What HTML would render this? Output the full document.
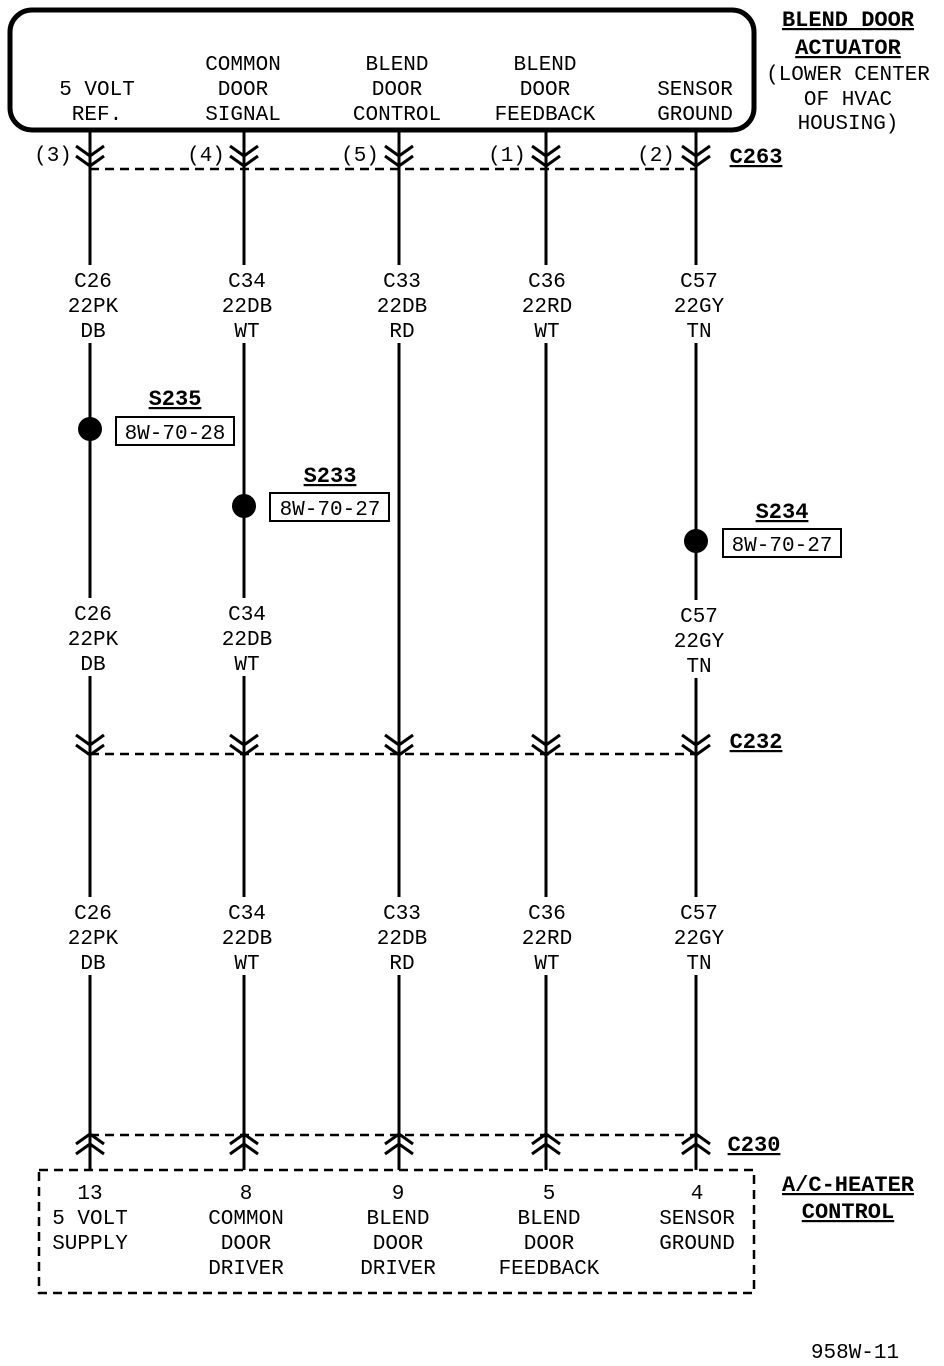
<!DOCTYPE html>
<html><head><meta charset="utf-8"><style>
html,body{margin:0;padding:0;background:#fff}
svg{display:block}
text{font-family:"Liberation Mono",monospace;font-size:21px;fill:#000;text-anchor:middle}
.b{font-weight:bold;font-size:22px;text-decoration:underline}
</style></head><body>
<svg width="944" height="1366" viewBox="0 0 944 1366" xmlns="http://www.w3.org/2000/svg">
<rect x="10" y="10" width="744" height="120" rx="22" ry="22" fill="none" stroke="#000" stroke-width="5"/>
<g>
<text x="97" y="95">5 VOLT</text><text x="97" y="120">REF.</text>
<text x="243" y="70">COMMON</text><text x="243" y="95">DOOR</text><text x="243" y="120">SIGNAL</text>
<text x="397" y="70">BLEND</text><text x="397" y="95">DOOR</text><text x="397" y="120">CONTROL</text>
<text x="545" y="70">BLEND</text><text x="545" y="95">DOOR</text><text x="545" y="120">FEEDBACK</text>
<text x="695" y="95">SENSOR</text><text x="695" y="120">GROUND</text>
</g>
<text class="b" x="848" y="26">BLEND DOOR</text>
<text class="b" x="848" y="54">ACTUATOR</text>
<text x="848" y="80">(LOWER CENTER</text>
<text x="848" y="105">OF HVAC</text>
<text x="848" y="129">HOUSING)</text>
<g stroke="#000" stroke-width="3" fill="none">
<line x1="90" y1="130" x2="90" y2="1170"/>
<line x1="244" y1="130" x2="244" y2="1170"/>
<line x1="399" y1="130" x2="399" y2="1170"/>
<line x1="546" y1="130" x2="546" y2="1170"/>
<line x1="696" y1="130" x2="696" y2="1170"/>
</g>
<g fill="#fff">
<rect x="62" y="265" width="60" height="78"/><rect x="216" y="265" width="60" height="78"/><rect x="371" y="265" width="60" height="78"/><rect x="518" y="265" width="60" height="78"/><rect x="668" y="265" width="60" height="78"/>
<rect x="62" y="598" width="60" height="78"/><rect x="216" y="598" width="60" height="78"/><rect x="668" y="600" width="60" height="78"/>
<rect x="62" y="897" width="60" height="78"/><rect x="216" y="897" width="60" height="78"/><rect x="371" y="897" width="60" height="78"/><rect x="518" y="897" width="60" height="78"/><rect x="668" y="897" width="60" height="78"/>
</g>
<g stroke="#000" stroke-width="2.5" stroke-dasharray="9,6" fill="none">
<line x1="90" y1="169" x2="696" y2="169"/>
<line x1="90" y1="754" x2="696" y2="754"/>
<line x1="90" y1="1135" x2="696" y2="1135"/>
<rect x="39" y="1170" width="715" height="123"/>
</g>
<g stroke="#000" stroke-width="3" fill="none">
<path transform="translate(90,0)" d="M-14,146 L0,156 L14,146 M-14,156 L0,166 L14,156"/>
<path transform="translate(244,0)" d="M-14,146 L0,156 L14,146 M-14,156 L0,166 L14,156"/>
<path transform="translate(399,0)" d="M-14,146 L0,156 L14,146 M-14,156 L0,166 L14,156"/>
<path transform="translate(546,0)" d="M-14,146 L0,156 L14,146 M-14,156 L0,166 L14,156"/>
<path transform="translate(696,0)" d="M-14,146 L0,156 L14,146 M-14,156 L0,166 L14,156"/>
<path transform="translate(90,589)" d="M-14,146 L0,156 L14,146 M-14,156 L0,166 L14,156"/>
<path transform="translate(244,589)" d="M-14,146 L0,156 L14,146 M-14,156 L0,166 L14,156"/>
<path transform="translate(399,589)" d="M-14,146 L0,156 L14,146 M-14,156 L0,166 L14,156"/>
<path transform="translate(546,589)" d="M-14,146 L0,156 L14,146 M-14,156 L0,166 L14,156"/>
<path transform="translate(696,589)" d="M-14,146 L0,156 L14,146 M-14,156 L0,166 L14,156"/>
<path transform="translate(90,0)" d="M-14,1144 L0,1134 L14,1144 M-14,1154 L0,1144 L14,1154"/>
<path transform="translate(244,0)" d="M-14,1144 L0,1134 L14,1144 M-14,1154 L0,1144 L14,1154"/>
<path transform="translate(399,0)" d="M-14,1144 L0,1134 L14,1144 M-14,1154 L0,1144 L14,1154"/>
<path transform="translate(546,0)" d="M-14,1144 L0,1134 L14,1144 M-14,1154 L0,1144 L14,1154"/>
<path transform="translate(696,0)" d="M-14,1144 L0,1134 L14,1144 M-14,1154 L0,1144 L14,1154"/>
</g>
<text x="53" y="161">(3)</text><text x="206" y="161">(4)</text><text x="360" y="161">(5)</text><text x="507" y="161">(1)</text><text x="656" y="161">(2)</text>
<text class="b" x="756" y="163">C263</text>
<text class="b" x="756" y="748">C232</text>
<text class="b" x="754" y="1151">C230</text>
<g>
<text x="93" y="287">C26</text><text x="93" y="312">22PK</text><text x="93" y="337">DB</text>
<text x="247" y="287">C34</text><text x="247" y="312">22DB</text><text x="247" y="337">WT</text>
<text x="402" y="287">C33</text><text x="402" y="312">22DB</text><text x="402" y="337">RD</text>
<text x="547" y="287">C36</text><text x="547" y="312">22RD</text><text x="547" y="337">WT</text>
<text x="699" y="287">C57</text><text x="699" y="312">22GY</text><text x="699" y="337">TN</text>

<text x="93" y="620">C26</text><text x="93" y="645">22PK</text><text x="93" y="670">DB</text>
<text x="247" y="620">C34</text><text x="247" y="645">22DB</text><text x="247" y="670">WT</text>
<text x="699" y="622">C57</text><text x="699" y="647">22GY</text><text x="699" y="672">TN</text>

<text x="93" y="919">C26</text><text x="93" y="944">22PK</text><text x="93" y="969">DB</text>
<text x="247" y="919">C34</text><text x="247" y="944">22DB</text><text x="247" y="969">WT</text>
<text x="402" y="919">C33</text><text x="402" y="944">22DB</text><text x="402" y="969">RD</text>
<text x="547" y="919">C36</text><text x="547" y="944">22RD</text><text x="547" y="969">WT</text>
<text x="699" y="919">C57</text><text x="699" y="944">22GY</text><text x="699" y="969">TN</text>
</g>
<circle cx="90" cy="429" r="12" fill="#000"/>
<circle cx="244" cy="506" r="12" fill="#000"/>
<circle cx="696" cy="541" r="12" fill="#000"/>
<g fill="none" stroke="#000" stroke-width="2">
<rect x="116" y="417" width="118" height="28"/>
<rect x="270" y="493" width="119" height="28"/>
<rect x="723" y="529" width="118" height="28"/>
</g>
<text class="b" x="175" y="405">S235</text><text x="175" y="439">8W-70-28</text>
<text class="b" x="330" y="482">S233</text><text x="330" y="515">8W-70-27</text>
<text class="b" x="782" y="518">S234</text><text x="782" y="551">8W-70-27</text>
<g>
<text x="90" y="1199">13</text><text x="90" y="1224">5 VOLT</text><text x="90" y="1249">SUPPLY</text>
<text x="246" y="1199">8</text><text x="246" y="1224">COMMON</text><text x="246" y="1249">DOOR</text><text x="246" y="1274">DRIVER</text>
<text x="398" y="1199">9</text><text x="398" y="1224">BLEND</text><text x="398" y="1249">DOOR</text><text x="398" y="1274">DRIVER</text>
<text x="549" y="1199">5</text><text x="549" y="1224">BLEND</text><text x="549" y="1249">DOOR</text><text x="549" y="1274">FEEDBACK</text>
<text x="697" y="1199">4</text><text x="697" y="1224">SENSOR</text><text x="697" y="1249">GROUND</text>
</g>
<text class="b" x="848" y="1191">A/C-HEATER</text>
<text class="b" x="848" y="1218">CONTROL</text>
<text x="855" y="1358">958W-11</text>
</svg>
</body></html>
